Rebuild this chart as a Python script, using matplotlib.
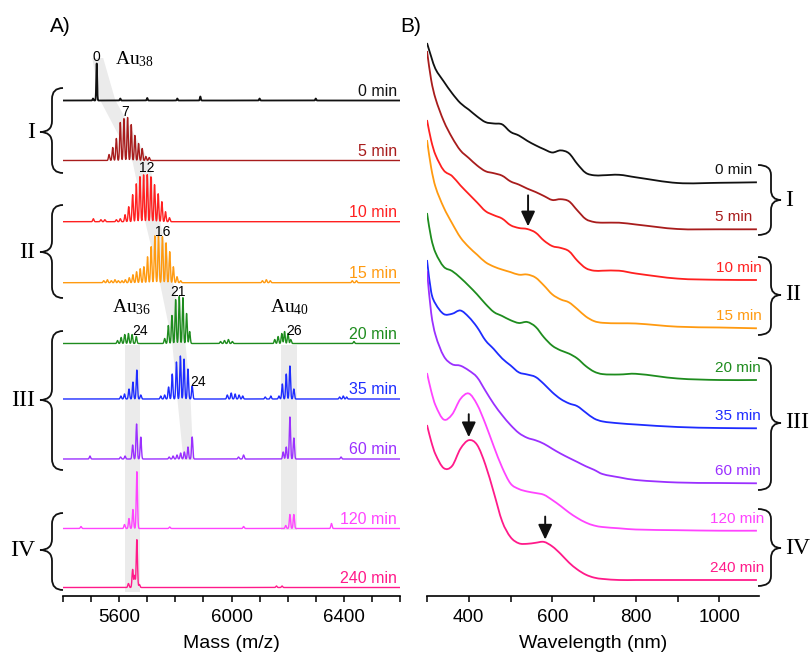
import numpy as np
import matplotlib
matplotlib.use('Agg')
import matplotlib.pyplot as plt
from matplotlib.path import Path
from matplotlib.patches import PathPatch, Polygon
import matplotlib.transforms as mtransforms

plt.rcParams['font.family'] = ['Liberation Sans', 'DejaVu Sans']
plt.rcParams['mathtext.fontset'] = 'custom'
plt.rcParams['mathtext.rm'] = 'Liberation Serif'
plt.rcParams['mathtext.it'] = 'Liberation Serif:italic'

# ---------------- data ----------------
times = ['0 min', '5 min', '10 min', '15 min', '20 min', '35 min', '60 min', '120 min', '240 min']
colors = ['#111111', '#a81c1c', '#ff2020', '#ff9a10', '#1e8c1e', '#1e2cff', '#9b30ff', '#ff44ff', '#ff1a8a']

# Panel A: MALDI mass spectra (peak m/z and intensity, a.u.)
mz_0 = [5507, 5520, 5604, 5700, 5807, 5889, 6100, 6300]
int_0 = [2, 37, 2, 2.5, 2, 4, 2, 2]
mz_5 = [5564, 5577, 5590, 5604, 5617, 5630, 5643, 5656, 5669, 5682, 5695, 5707]
int_5 = [6, 13, 22, 38, 42, 43, 36, 25, 17, 12, 4, 3]
mz_10 = [5508, 5535, 5549, 5590, 5604, 5621, 5634, 5648, 5661, 5674, 5687, 5700, 5713, 5726, 5739, 5752, 5765, 5779]
int_10 = [3, 2, 2, 2, 3, 7, 15, 27, 38, 45, 47, 47, 45, 37, 28, 20, 10, 4]
mz_15 = [5545, 5558, 5572, 5585, 5597, 5610, 5622, 5636, 5649, 5662, 5675, 5688, 5701, 5714, 5727, 5740,
         5754, 5767, 5780, 5793, 5806, 5819, 6110, 6124, 6138, 6430, 6445]
int_15 = [2, 3, 2, 3, 2, 2, 3, 5, 8, 11, 14, 16, 26, 36, 47, 47, 46, 40, 31, 16, 6, 2, 2, 3, 2, 2, 2]
mz_20 = [5594, 5607, 5620, 5633, 5646, 5661, 5762, 5775, 5788, 5801, 5814, 5827, 5840, 5851,
         5961, 5975, 5989, 6003, 6154, 6166, 6179, 6189, 6201, 6211, 6436]
int_20 = [3, 6, 9, 10, 9, 7, 5, 18, 28, 44, 47, 46, 30, 12, 2, 3, 4, 2, 4, 7, 10, 12, 10, 4, 2]
mz_35 = [5606, 5619, 5635, 5649, 5663, 5677, 5748, 5762, 5776, 5789, 5804, 5818, 5831, 5845, 5860,
         5985, 5999, 6013, 6027, 6040, 6120, 6140, 6169, 6181, 6195, 6208, 6222, 6385, 6398, 6410]
int_35 = [3, 5, 10, 17, 29, 4, 3, 4, 12, 25, 37, 43, 40, 30, 13, 4, 6, 5, 4, 3, 2, 3, 3, 15, 25, 33, 10, 2, 3, 2]
mz_60 = [5496, 5605, 5621, 5648, 5662, 5677, 5778, 5792, 5806, 5819, 5832, 5845, 5860,
         6025, 6043, 6184, 6195, 6208, 6222, 6390]
int_60 = [3, 2, 3, 14, 35, 22, 2, 3, 4, 6, 7, 12, 22, 2, 4, 7, 12, 42, 21, 2]
mz_120 = [5464, 5619, 5635, 5649, 5663, 5780, 6043, 6193, 6208, 6222, 6356]
int_120 = [2, 4, 10, 19, 57, 1.5, 2, 3, 14, 14, 5]
mz_240 = [5633, 5648, 5655, 5663, 5672, 6160, 6180]
int_240 = [4, 18, 12, 48, 3, 1.5, 1.5]
ms_offsets = [495.5, 435.5, 374.3, 313.3, 252.5, 197, 137, 67.5, 8.5]

# exchange-number labels (m/z, level)
ex_labels = ['0', '7', '12', '16', '21', '24', '24', '26']
ex_mz = [5520, 5621, 5698, 5754, 5811, 5675, 5854, 6221]
ex_y = [539, 484, 428, 364, 304, 265, 214, 265]

# Panel B: UV-vis spectra (absorbance, a.u., relative to 1090 nm)
wl = [300, 310, 320, 340, 360, 380, 400, 420, 440, 460, 480, 500, 520, 540, 560, 580, 600, 620, 640,
      660, 680, 700, 720, 760, 800, 900, 1000, 1090]
abs_0 = [139.3, 125.7, 113.6, 100.9, 89.1, 79.2, 72.7, 65.8, 60.2, 58.8, 57.9, 50.4, 46.8, 41.5, 37.0, 33.1,
         29.8, 31.9, 29.0, 18.3, 9.5, 7.0, 7.0, 7.5, 5.0, -0.7, -0.5, 0.0]
abs_5 = [178.3, 149.3, 131.3, 108.3, 91.8, 78.9, 71.3, 63.8, 58.1, 56.1, 53.6, 47.9, 44.7, 40.7, 37.3, 33.3,
         29.3, 30.1, 28.0, 18.9, 10.3, 7.3, 6.6, 6.6, 4.8, 0.3, 0, 0]
abs_10 = [160, 139.5, 125.5, 109.7, 104, 94.6, 86, 77.5, 68.9, 64.8, 61.4, 54.8, 52, 51, 47.4, 39.4, 33.9,
          32.1, 28.8, 19.3, 11.9, 9.3, 9.3, 9.3, 6.5, 1.4, 0.2, 0]
abs_15 = [188.3, 160.5, 141.9, 120.9, 105.1, 90.9, 81.3, 73.6, 66.1, 61.7, 58.7, 56.2, 53.6, 53.8, 50.7,
          42.8, 33.9, 28.9, 25.9, 19.2, 11.9, 7.2, 5.5, 5.0, 4.8, 1.6, 0.8, 0]
abs_20 = [167, 142, 127.7, 113.3, 109, 102.2, 94.2, 85.6, 76.1, 68, 64, 59.8, 57, 58, 53.2, 42.7, 34.3,
          29.6, 26.4, 21.5, 14, 8.4, 5.9, 5.5, 6.2, 1.5, 0, 0]
abs_35 = [168.3, 136.3, 124.8, 114.3, 114.5, 117.8, 111.3, 101.1, 87.9, 79.2, 69.8, 62.9, 55.9, 53.8, 51.3,
          44.3, 36, 29.3, 24.9, 22.1, 15.8, 9.8, 6.9, 5, 3.8, 1.3, 0.3, 0]
abs_60 = [212.3, 170.3, 148.8, 127.3, 119.1, 117.6, 112.9, 106, 92.5, 79.3, 68.1, 58.3, 50.3, 45.5, 43,
          39.5, 34.5, 29.7, 25.4, 21.3, 17.1, 13.5, 9.3, 6, 3.3, 0.8, 0.3, 0]
abs_120 = [157.7, 139.7, 125.7, 111.2, 116.2, 131.7, 137.2, 126.2, 106.7, 84.2, 63.2, 47.2, 41.7, 39.2,
           37.7, 35.9, 30.7, 24.7, 18.2, 12.7, 8.2, 5.2, 3.7, 2.4, 1.2, 0.5, 0, 0]
abs_240 = [155, 138.7, 126, 111.9, 114, 131.2, 139.8, 135.1, 115.1, 87.4, 58.6, 42.9, 36.7, 36.2, 37.2,
           38.1, 33.6, 26.1, 17.4, 10.5, 5.4, 2.4, 1.1, 0, 0, 0, 0, 0]
uv_offsets = [413.7, 366.7, 316, 267.7, 216, 167.7, 112.7, 65.3, 16]

# arrows: (spectrum index, wavelength)
arrow_idx = [2, 8, 8]
arrow_wl = [542, 400, 583]
arrow_len = [31, 23, 23]

ms_mz = [mz_0, mz_5, mz_10, mz_15, mz_20, mz_35, mz_60, mz_120, mz_240]
ms_int = [int_0, int_5, int_10, int_15, int_20, int_35, int_60, int_120, int_240]
uv_abs = [abs_0, abs_5, abs_10, abs_15, abs_20, abs_35, abs_60, abs_120, abs_240]

# ---------------- figure ----------------
W, H = 811, 662
fig = plt.figure(figsize=(W / 100, H / 100), dpi=100)
axA = fig.add_axes([63 / W, 66 / H, 337 / W, 560 / H])
axB = fig.add_axes([427 / W, 66 / H, 332 / W, 560 / H])

for ax in (axA, axB):
    for s in ('left', 'top', 'right'):
        ax.spines[s].set_visible(False)
    ax.spines['bottom'].set_linewidth(1.2)
    ax.set_yticks([])
    ax.set_ylim(0, 560)
    ax.tick_params(axis='x', direction='out', length=4.5, width=1.1, labelsize=13.5, pad=5)


def brace(ax, x_end, x_mid, x_tip, y_top, y_bot, y_tip, h=11, lw=1.3):
    tr = mtransforms.blended_transform_factory(ax.transAxes, ax.transData)
    verts = [(x_end, y_top), (x_mid, y_top), (x_mid, y_top - h),
             (x_mid, y_tip + h),
             (x_mid, y_tip), (x_tip, y_tip),
             (x_mid, y_tip), (x_mid, y_tip - h),
             (x_mid, y_bot + h),
             (x_mid, y_bot), (x_end, y_bot)]
    codes = [Path.MOVETO, Path.CURVE3, Path.CURVE3, Path.LINETO,
             Path.CURVE3, Path.CURVE3, Path.CURVE3, Path.CURVE3,
             Path.LINETO, Path.CURVE3, Path.CURVE3]
    ax.add_patch(PathPatch(Path(verts, codes), transform=tr, fill=False, lw=lw,
                           ec='#111111', clip_on=False))
    return tr


def smooth_path(xs, ys):
    """Cubic Bezier path through every read point (Catmull-Rom tangents)."""
    xs = np.asarray(xs, float)
    ys = np.asarray(ys, float)
    n = len(xs)
    verts = [(xs[0], ys[0])]
    codes = [Path.MOVETO]
    for k in range(n - 1):
        k0 = max(k - 1, 0)
        k3 = min(k + 2, n - 1)
        dx = xs[k + 1] - xs[k]
        m1 = (ys[k + 1] - ys[k0]) / (xs[k + 1] - xs[k0])
        m2 = (ys[k3] - ys[k]) / (xs[k3] - xs[k])
        verts += [(xs[k] + dx / 3, ys[k] + m1 * dx / 3),
                  (xs[k + 1] - dx / 3, ys[k + 1] - m2 * dx / 3),
                  (xs[k + 1], ys[k + 1])]
        codes += [Path.CURVE4] * 3
    return Path(verts, codes)

# ---------- Panel A ----------
axA.set_xlim(5400, 6600)
band_y = [538, 496, 434, 374, 312, 253, 198, 136]
band_left = [5504, 5532, 5648, 5693, 5746, 5789, 5807, 5829]
band_right = [5543, 5586, 5708, 5746, 5793, 5836, 5854, 5864]
poly = list(zip(band_left, band_y)) + list(zip(band_right[::-1], band_y[::-1]))
axA.add_patch(Polygon(poly, closed=True, fc='#ebebeb', ec='none', zorder=0))
axA.fill_betweenx([4, 251], 5621, 5675, color='#ebebeb', lw=0, zorder=0)
axA.fill_betweenx([66, 251], 6175, 6232, color='#ebebeb', lw=0, zorder=0)

x = np.arange(5400, 6600.01, 0.4)
for i in range(len(times)):
    y = np.zeros_like(x)
    sig = 1.6 if i == 0 else 2.2
    for m, h in zip(ms_mz[i], ms_int[i]):
        y += h * np.exp(-0.5 * ((x - m) / sig) ** 2)
    axA.plot(x, y + ms_offsets[i], color=colors[i], lw=1.3 if i == 0 else 1.0, zorder=2)
    axA.text(6588, ms_offsets[i] + 9, times[i], color=colors[i], ha='right', va='center',
             fontsize=11.5, zorder=3)

for t, m, yy in zip(ex_labels, ex_mz, ex_y):
    ha = 'left' if (t == '24' and m > 5800) else 'center'
    axA.text(m, yy, t, fontsize=10, ha=ha, va='center', zorder=3)

axA.text(5586, 537, r'Au$_{38}$', fontsize=14, family='Liberation Serif', ha='left', va='center')
axA.text(5575, 289, r'Au$_{36}$', fontsize=14, family='Liberation Serif', ha='left', va='center')
axA.text(6136, 289, r'Au$_{40}$', fontsize=14, family='Liberation Serif', ha='left', va='center')

ticksA = np.arange(5400, 6601, 100)
axA.set_xticks(ticksA)
axA.set_xticklabels([str(t) if t in (5600, 6000, 6400) else '' for t in ticksA])
axA.set_xlabel('Mass (m/z)', fontsize=14, labelpad=6)

fa = lambda px: (px - 63) / 337.0
for (top, bot, tip, lab) in [(508, 423, 464, 'I'), (391, 298, 344, 'II'),
                             (265, 126, 196, 'III'), (83, 6, 46, 'IV')]:
    tr = brace(axA, fa(63), fa(52), fa(40), top, bot, tip)
    axA.text(fa(35), tip, lab, fontsize=17, family='Liberation Serif', ha='right', va='center',
             transform=tr, clip_on=False)

# ---------- Panel B ----------
axB.set_xlim(300, 1095)
for i in range(len(times)):
    yy = np.array(uv_abs[i]) + uv_offsets[i]
    axB.add_patch(PathPatch(smooth_path(wl, yy), fill=False, ec=colors[i], lw=1.3, zorder=2))
label_x_uv = [1078, 1080, 1102, 1102, 1098, 1098, 1100, 1108, 1108]
for i in range(len(times)):
    axB.text(label_x_uv[i], uv_offsets[i] + 12, times[i], color=colors[i], ha='right', va='center',
             fontsize=11, zorder=3, clip_on=False)

for idx, w, L in zip(arrow_idx, arrow_wl, arrow_len):
    tip = np.interp(w, wl, uv_abs[idx]) + uv_offsets[idx] + 3
    axB.annotate('', xy=(w, tip), xytext=(w, tip + L),
                 arrowprops=dict(arrowstyle='-|>,head_length=0.9,head_width=0.42', color='#111111',
                                 lw=1.4, shrinkA=0, shrinkB=0, mutation_scale=10))

axB.set_xticks(np.arange(300, 1001, 100))
axB.set_xticklabels([str(t) if t in (400, 600, 800, 1000) else '' for t in np.arange(300, 1001, 100)])
axB.set_xlabel('Wavelength (nm)', fontsize=14, labelpad=6)

fb = lambda px: (px - 427) / 332.0
for (top, bot, tip, lab) in [(431, 361, 396, 'I'), (339, 261, 301, 'II'),
                             (238, 106, 173, 'III'), (87, 10, 48, 'IV')]:
    tr = brace(axB, fb(758), fb(771), fb(781), top, bot, tip, h=10)
    axB.text(fb(785), tip, lab, fontsize=17, family='Liberation Serif', ha='left', va='center',
             transform=tr, clip_on=False)

fig.text(50 / W, 1 - 26 / H, 'A)', fontsize=15, ha='left', va='center')
fig.text(400 / W, 1 - 26 / H, 'B)', fontsize=15, ha='left', va='center')

fig.savefig('out.png', dpi=100)
